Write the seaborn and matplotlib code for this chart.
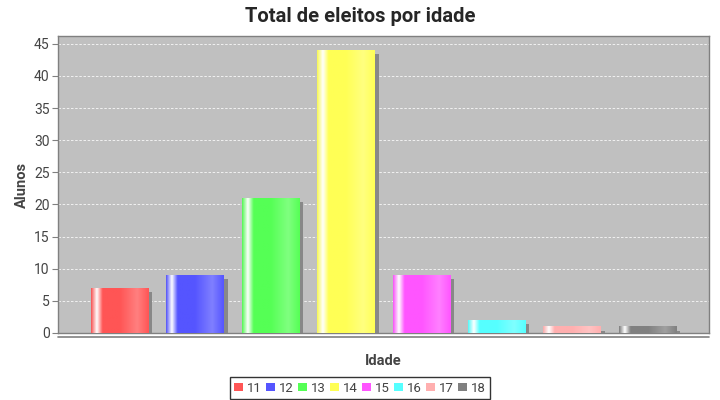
import numpy as np
import pandas as pd
import matplotlib
matplotlib.use('Agg')
import matplotlib.pyplot as plt
import matplotlib.patheffects as pe
from matplotlib.patches import Patch
from matplotlib.colors import to_rgb
import seaborn as sns

idades = ['11', '12', '13', '14', '15', '16', '17', '18']
alunos = [7, 9, 21, 44, 9, 2, 1, 1]
cores = ['#FF5555', '#5555FF', '#55FF55', '#FFFF55', '#FF55FF', '#55FFFF', '#FFAFAF', '#808080']

df = pd.DataFrame({'Idade': idades, 'Alunos': alunos})

sns.set_style('white')
plt.rcParams['font.family'] = ['Roboto', 'DejaVu Sans']

fig = plt.figure(figsize=(7.2, 4), dpi=100)
ax = fig.add_axes([58 / 720, 67 / 400, 651 / 720, 297 / 400])
ax.set_facecolor('#C0C0C0')

sns.barplot(data=df, x='Idade', y='Alunos', hue='Idade', palette=cores,
            legend=False, width=0.757, saturation=1, linewidth=0, ax=ax, zorder=3)

# sombra + gradiente tipo JFreeChart
stops = [0.0, 0.10, 0.20, 0.50, 0.80, 1.0]
for p, c in zip(ax.patches, cores):
    p.set_linewidth(0)
    p.set_path_effects([pe.SimplePatchShadow(offset=(3, -3), shadow_rgbFace='#888888', alpha=1), pe.Normal()])
    base = np.array(to_rgb(c))
    claro = base + (1 - base) * 0.25
    cols = [base * 0.97, np.ones(3), base, base, claro, base]
    xs = np.linspace(0, 1, 200)
    grad = np.stack([np.interp(xs, stops, [cc[i] for cc in cols]) for i in range(3)], axis=-1)
    x0, w, h = p.get_x(), p.get_width(), p.get_height()
    ax.imshow(grad[np.newaxis, :, :], extent=[x0, x0 + w, 0, h], aspect='auto',
              zorder=4, interpolation='bilinear')

ax.set_xlim(-0.817, 7.817)
ax.set_ylim(0, 46.2)
ax.set_yticks(range(0, 46, 5))
ax.set_xticks([])
ax.yaxis.grid(True, color='white', linestyle=(0, (3, 2)), linewidth=0.6, alpha=0.9)
ax.set_axisbelow(True)

for s in ax.spines.values():
    s.set_color('#808080')
    s.set_linewidth(1)
ax.tick_params(axis='y', left=True, length=4, width=0.8, color='#808080',
               labelsize=10, labelcolor='#444444', pad=2)
ax.plot([0, 1], [-0.014, -0.014], transform=ax.transAxes, clip_on=False,
        color='#808080', linewidth=1.2)

ax.set_xlabel('Idade', fontsize=10.5, fontweight='bold', color='#444444', labelpad=15)
ax.set_ylabel('Alunos', fontsize=10.5, fontweight='bold', color='#444444', labelpad=4)
fig.suptitle('Total de eleitos por idade', fontsize=14.5, fontweight='bold', y=0.982)

handles = [Patch(facecolor=c, edgecolor='none', label=i) for i, c in zip(idades, cores)]
leg = fig.legend(handles=handles, ncol=8, loc='lower center', bbox_to_anchor=(0.5, -0.008),
                 frameon=True, fancybox=False, handlelength=0.65, handleheight=0.65,
                 handletextpad=0.3, columnspacing=0.35, fontsize=9.5, borderpad=0.35,
                 borderaxespad=0.3, labelcolor='#444444')
leg.get_frame().set_edgecolor('black')
leg.get_frame().set_linewidth(1)

plt.savefig('out.png', dpi=100)
